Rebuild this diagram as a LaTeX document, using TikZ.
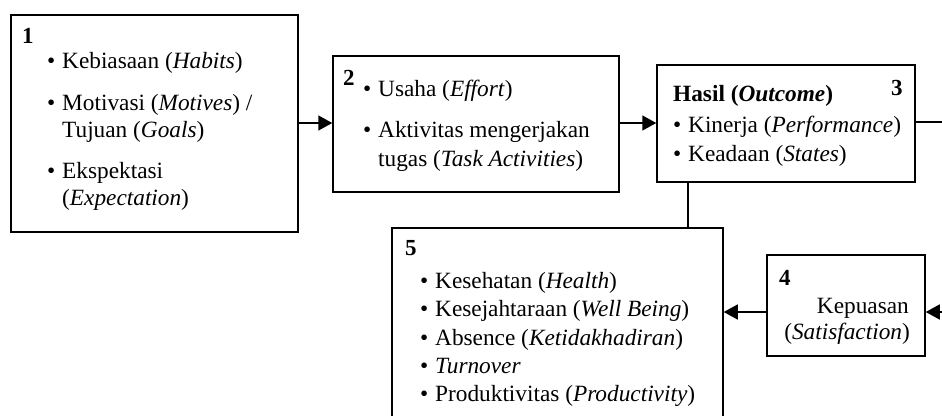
\documentclass[tikz,border=0pt]{standalone}
\usepackage{fontspec}
\setmainfont{Liberation Serif}
\usetikzlibrary{arrows.meta}
\tikzset{
  box/.style={draw, line width=1.5pt, inner sep=0pt},
  txt/.style={anchor=base west, inner sep=0pt, font=\fontsize{23.3}{28}\selectfont},
  num/.style={anchor=base west, inner sep=0pt, font=\fontsize{23}{28}\selectfont\bfseries},
  arr/.style={line width=1.5pt, -{Triangle[length=14pt,width=15pt]}},
  ln/.style={line width=1.5pt}
}
\newcommand{\bul}{\llap{•\hspace{7pt}}}
\begin{document}
\begin{tikzpicture}[x=1pt,y=-1pt]
\useasboundingbox (0,0) rectangle (942,415);
\clip (0,0) rectangle (942,415);
% boxes
\node[box, minimum width=287pt, minimum height=217pt] (b1) at (154.5,123.5) {};
\node[box, minimum width=286pt, minimum height=136pt] (b2) at (476,124) {};
\node[box, minimum width=258pt, minimum height=117pt] (b3) at (786,123.5) {};
\node[box, minimum width=158pt, minimum height=101pt] (b4) at (846,305.5) {};
\node[box, minimum width=331pt, minimum height=230pt] (b5) at (557.5,343) {};
% box 1
\node[num] (n1) at (22,43) {1};
\node[txt] (t11) at (62,68) {\bul Kebiasaan (\textit{Habits})};
\node[txt] (t12) at (62,110) {\bul Motivasi (\textit{Motives}) /};
\node[txt] (t13) at (62,137) {Tujuan (\textit{Goals})};
\node[txt] (t14) at (62,178) {\bul Ekspektasi};
\node[txt] (t15) at (62,205) {(\textit{Expectation})};
% box 2
\node[num] (n2) at (343,85) {2};
\node[txt] (t21) at (378,96) {\bul Usaha (\textit{Effort})};
\node[txt] (t22) at (378,137) {\bul Aktivitas mengerjakan};
\node[txt] (t23) at (378,166) {tugas (\textit{Task Activities})};
% box 3
\node[txt, font=\fontsize{23.3}{28}\selectfont\bfseries] (t30) at (673,101) {Hasil (\textit{Outcome})};
\node[num] (n3) at (891,95) {3};
\node[txt] (t31) at (688,132) {\bul Kinerja (\textit{Performance})};
\node[txt] (t32) at (688,161) {\bul Keadaan (\textit{States})};
% box 4
\node[num] (n4) at (779,285) {4};
\node[txt, anchor=base east] (t41) at (909,313) {Kepuasan};
\node[txt, anchor=base east] (t42) at (910,339) {(\textit{Satisfaction})};
% box 5
\node[num] (n5) at (405,255) {5};
\node[txt] (t51) at (435,288) {\bul Kesehatan (\textit{Health})};
\node[txt] (t52) at (435,316.5) {\bul Kesejahtaraan (\textit{Well Being})};
\node[txt] (t53) at (435,345) {\bul Absence (\textit{Ketidakhadiran})};
\node[txt] (t54) at (435,373) {\bul \textit{Turnover}};
\node[txt] (t55) at (435,401) {\bul Produktivitas (\textit{Productivity})};
% connectors
\coordinate (a12) at (0,123);
\draw[arr] (a12 -| b1.east) -- (a12 -| b2.west);
\draw[arr] (a12 -| b2.east) -- (a12 -| b3.west);
\coordinate (out3) at (960,122);
\draw[ln] (out3 -| b3.east) -- (out3);
\coordinate (v35) at (688,0);
\draw[ln] (v35 |- b3.south) -- (v35 |- b5.north);
\coordinate (in4) at (960,312);
\draw[arr] (in4) -- (in4 -| b4.east);
\draw[arr] (in4 -| b4.west) -- (in4 -| b5.east);
\end{tikzpicture}
\end{document}
